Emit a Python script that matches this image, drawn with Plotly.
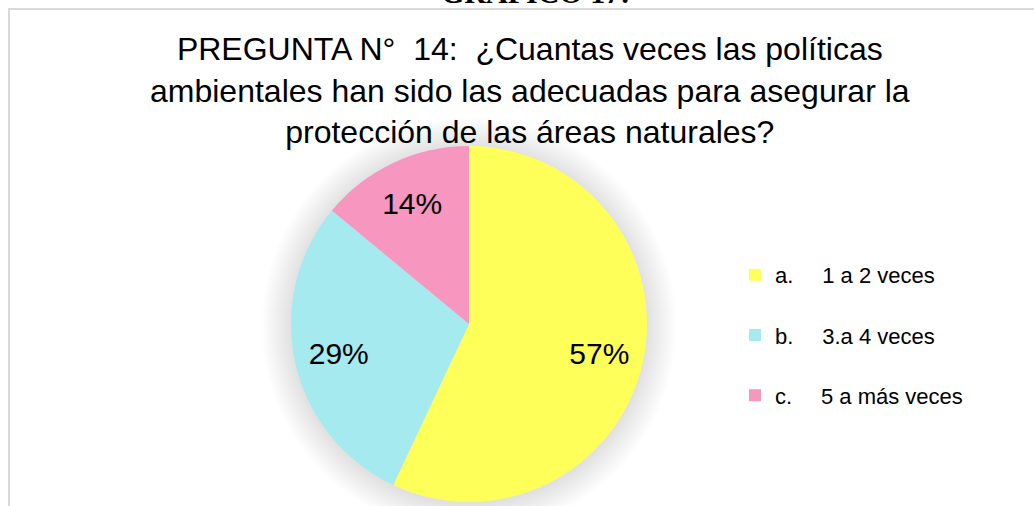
import plotly.graph_objects as go

W, H = 1034, 506

labels = ["a.", "b.", "c."]
label_text = ["1 a 2 veces", "3.a 4 veces", "5 a más veces"]
values = [57, 29, 14]
colors = ["#FFFF5A", "#A5EAEF", "#F796BF"]
title_lines = ["PREGUNTA N°  14:  ¿Cuantas veces las políticas",
               "ambientales han sido las adecuadas para asegurar la",
               "protección de las áreas naturales?"]
header = "GRÁFICO 17:"

FONT = "Arial, Liberation Sans, sans-serif"
GAP = "\u00a0" * 4 + "\u2009"

# pie geometry (pixels)
cx, cy, r = 469, 324, 178


def px(x):
    return x / W


def py(y):
    return 1 - y / H


domain = dict(x=[px(cx - r), px(cx + r)], y=[py(cy + r), py(cy - r)])
legend_labels = [a + GAP + b + "<br> " for a, b in zip(labels, label_text)]

fig = go.Figure()
# filled pie (legend source)
fig.add_trace(go.Pie(
    labels=legend_labels,
    values=values,
    marker=dict(colors=colors, line=dict(width=0)),
    sort=False,
    direction="clockwise",
    rotation=0,
    textinfo="none",
    hoverinfo="skip",
    domain=domain,
))
# transparent ring carrying the percentage labels
fig.add_trace(go.Pie(
    labels=legend_labels,
    values=values,
    hole=0.5,
    marker=dict(colors=["rgba(0,0,0,0)"] * 3, line=dict(width=0)),
    sort=False,
    direction="clockwise",
    rotation=0,
    texttemplate="%{percent:.0%}",
    textposition="inside",
    insidetextorientation="horizontal",
    textfont=dict(family=FONT, size=30, color="#000000"),
    hoverinfo="skip",
    showlegend=False,
    domain=domain,
))

shapes = []
# soft shadow behind the pie
for k in range(30, 0, -1):
    shapes.append(dict(
        type="circle", xref="paper", yref="paper", layer="below",
        x0=px(cx - r - k), x1=px(cx + r + k),
        y0=py(cy + r + k + 2), y1=py(cy - r - k + 1),
        fillcolor="rgba(0,0,0,0.0055)", line=dict(width=0)))
# chart frame (only left and top edges visible)
shapes.append(dict(type="rect", xref="paper", yref="paper", layer="below",
                   x0=px(9), x1=1.05, y0=-0.05, y1=py(9),
                   line=dict(color="#D9D9D9", width=2), fillcolor="rgba(0,0,0,0)"))

annotations = [
    dict(text="<br>".join(title_lines), x=px(530), y=py(29), xref="paper", yref="paper",
         xanchor="center", yanchor="top", showarrow=False, align="center",
         font=dict(family=FONT, size=32, color="#000000")),
    dict(text="<b>" + header + "</b>", x=px(535), y=py(-8), xref="paper", yref="paper",
         xanchor="center", yanchor="middle", showarrow=False,
         font=dict(family="Times New Roman, Liberation Serif, serif", size=30, color="#000000")),
]

fig.update_layout(
    width=W, height=H,
    margin=dict(l=0, r=0, t=0, b=0),
    paper_bgcolor="white", plot_bgcolor="white",
    showlegend=True,
    uniformtext=dict(mode="show", minsize=30),
    legend=dict(x=px(735), y=py(254), xanchor="left", yanchor="top",
                font=dict(family=FONT, size=22, color="#000000"),
                valign="top", bgcolor="rgba(0,0,0,0)"),
    shapes=shapes,
    annotations=annotations,
)

fig.write_html("out.html", config={"displayModeBar": False},
               post_script="document.body.style.margin='0';")
